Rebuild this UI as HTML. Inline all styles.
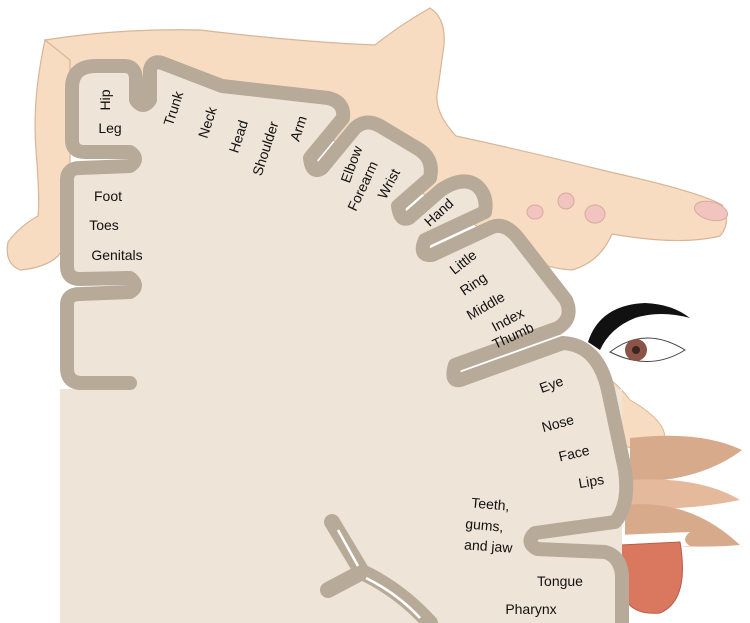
<!DOCTYPE html>
<html><head><meta charset="utf-8"><style>
html,body{margin:0;padding:0;background:#fff}
svg{display:block}
text{font-family:"Liberation Sans",sans-serif;font-size:14px;fill:#111}
</style></head><body>
<svg width="750" height="623" viewBox="0 0 750 623" xmlns="http://www.w3.org/2000/svg">
<!-- body / leg / arm -->
<path d="M45,40 Q120,28 200,30 Q300,42 375,45 Q400,25 430,8 Q446,18 444,45 L438,88 Q432,110 456,136 Q530,152 610,172 Q700,192 722,205 Q732,222 720,236 Q680,246 612,234 Q600,262 572,270 Q540,268 520,252 L470,222 L300,120 L60,120 Z" fill="#f7dcc2" stroke="#d8b597" stroke-width="1.2"/>
<path d="M45,40 Q32,100 36,150 Q40,200 38,216 Q20,226 8,242 Q4,263 20,270 Q45,268 58,256 L70,240 L70,60 Z" fill="#f7dcc2" stroke="#d8b597" stroke-width="1.2"/>
<g fill="#f2c4c0" stroke="#d8a8a0" stroke-width="1"><ellipse cx="711" cy="211" rx="17" ry="9" transform="rotate(15 711 211)"/><ellipse cx="595" cy="214" rx="10" ry="9"/><ellipse cx="566" cy="201" rx="8" ry="8"/><ellipse cx="535" cy="212" rx="8" ry="7"/></g>
<!-- face -->
<path d="M588,342 Q600,305 645,303 Q672,304 690,318 Q660,310 635,318 Q610,328 600,350 Z" fill="#111"/>
<path d="M610,352 Q645,325 685,350 Q650,372 610,352 Z" fill="#fff" stroke="#444" stroke-width="1"/>
<circle cx="636" cy="350" r="11" fill="#8a5548"/><circle cx="636" cy="350" r="4" fill="#3a2520"/>
<path d="M598,372 Q615,380 630,400 Q665,420 665,438 Q658,452 640,452 L612,440 Z" fill="#f7dcc2" stroke="#d8b597"/>
<path d="M630,438 Q700,430 742,450 Q700,482 630,482 Z" fill="#d8aa8c"/>
<path d="M630,480 Q700,476 740,500 Q680,512 630,507 Z" fill="#e4b99c"/>
<path d="M625,505 Q690,498 740,545 Q680,550 625,540 Z" fill="#d8aa8c"/>
<path d="M618,535 L690,532 Q680,540 690,546 L618,546 Z" fill="#fff"/>
<path d="M620,545 L680,542 Q690,600 660,613 Q628,616 622,590 Z" fill="#d9785f" stroke="#b85e48"/>
<!-- brain -->
<rect x="60" y="389" width="562" height="234" fill="#efe4d8"/>
<path d="M130,383 L82,383 Q67,383 67,368 L67,305 Q67,294 80,294 L130,292 Q140,286 130,278 L80,279 Q67,279 67,266 L67,180 Q67,168 80,168 L130,166 Q140,159 130,152 L85,152 Q72,152 72,140 L72,88 Q72,66 96,66 L124,66 Q136,66 136,80 L136,100 Q143,110 150,100 L150,70 Q152,60 162,63 L222,86 L328,98 Q345,102 343,118 L310,158 Q312,175 322,168 L355,128 Q366,118 380,126 L420,150 Q434,160 430,178 L398,206 Q400,222 409,218 L441,190 Q462,176 476,185 Q488,195 485,212 L425,240 Q418,256 432,255 L492,227 Q505,222 518,238 L566,300 Q574,318 558,328 L455,365 Q450,382 460,380 L563,343 Q598,345 608,390 L625,470 Q630,505 615,522 L535,533 Q525,542 537,549 L605,552 Q620,556 622,575 L622,623 L60,623 L60,389 L130,389 Z" fill="#efe4d8"/>
<path d="M130,383 L82,383 Q67,383 67,368 L67,305 Q67,294 80,294 L130,292 Q140,286 130,278 L80,279 Q67,279 67,266 L67,180 Q67,168 80,168 L130,166 Q140,159 130,152 L85,152 Q72,152 72,140 L72,88 Q72,66 96,66 L124,66 Q136,66 136,80 L136,100 Q143,110 150,100 L150,70 Q152,60 162,63 L222,86 L328,98 Q345,102 343,118 L310,158 Q312,175 322,168 L355,128 Q366,118 380,126 L420,150 Q434,160 430,178 L398,206 Q400,222 409,218 L441,190 Q462,176 476,185 Q488,195 485,212 L425,240 Q418,256 432,255 L492,227 Q505,222 518,238 L566,300 Q574,318 558,328 L455,365 Q450,382 460,380 L563,343 Q598,345 608,390 L625,470 Q630,505 615,522 L535,533 Q525,542 537,549 L605,552 Q620,556 622,575 L622,623" fill="none" stroke="#b8aa98" stroke-width="14" stroke-linejoin="round" stroke-linecap="round"/>
<path d="M332,522 L362,572 L328,590 M362,572 Q400,590 430,623" fill="none" stroke="#b8aa98" stroke-width="16" stroke-linecap="round" stroke-linejoin="round"/>
<path d="M338,530 L358,566 M366,578 Q398,594 420,618" fill="none" stroke="#fff" stroke-width="2.5"/>
<!-- labels -->
<text transform="translate(110,100) rotate(-90)" text-anchor="middle">Hip</text>
<text x="110" y="133" text-anchor="middle">Leg</text>
<text x="108" y="201" text-anchor="middle">Foot</text>
<text x="104" y="230" text-anchor="middle">Toes</text>
<text x="117" y="260" text-anchor="middle">Genitals</text>
<text transform="translate(178,110) rotate(-72)" text-anchor="middle">Trunk</text>
<text transform="translate(212,124) rotate(-72)" text-anchor="middle">Neck</text>
<text transform="translate(243,138) rotate(-72)" text-anchor="middle">Head</text>
<text transform="translate(270,150) rotate(-72)" text-anchor="middle">Shoulder</text>
<text transform="translate(303,130) rotate(-72)" text-anchor="middle">Arm</text>
<text transform="translate(356,166) rotate(-70)" text-anchor="middle">Elbow</text>
<text transform="translate(367,188) rotate(-65)" text-anchor="middle">Forearm</text>
<text transform="translate(393,186) rotate(-62)" text-anchor="middle">Wrist</text>
<text transform="translate(442,216) rotate(-42)" text-anchor="middle">Hand</text>
<text transform="translate(466,266) rotate(-38)" text-anchor="middle">Little</text>
<text transform="translate(476,288) rotate(-34)" text-anchor="middle">Ring</text>
<text transform="translate(488,310) rotate(-30)" text-anchor="middle">Middle</text>
<text transform="translate(510,324) rotate(-28)" text-anchor="middle">Index</text>
<text transform="translate(515,340) rotate(-25)" text-anchor="middle">Thumb</text>
<text transform="translate(553,389) rotate(-20)" text-anchor="middle">Eye</text>
<text transform="translate(559,428) rotate(-15)" text-anchor="middle">Nose</text>
<text transform="translate(575,458) rotate(-13)" text-anchor="middle">Face</text>
<text transform="translate(592,486) rotate(-10)" text-anchor="middle">Lips</text>
<text transform="translate(490,509) rotate(5)" text-anchor="middle">Teeth,</text>
<text transform="translate(484,530) rotate(5)" text-anchor="middle">gums,</text>
<text transform="translate(488,551) rotate(4)" text-anchor="middle">and jaw</text>
<text x="560" y="586" text-anchor="middle">Tongue</text>
<text x="531" y="614" text-anchor="middle">Pharynx</text>
</svg>
</body></html>
